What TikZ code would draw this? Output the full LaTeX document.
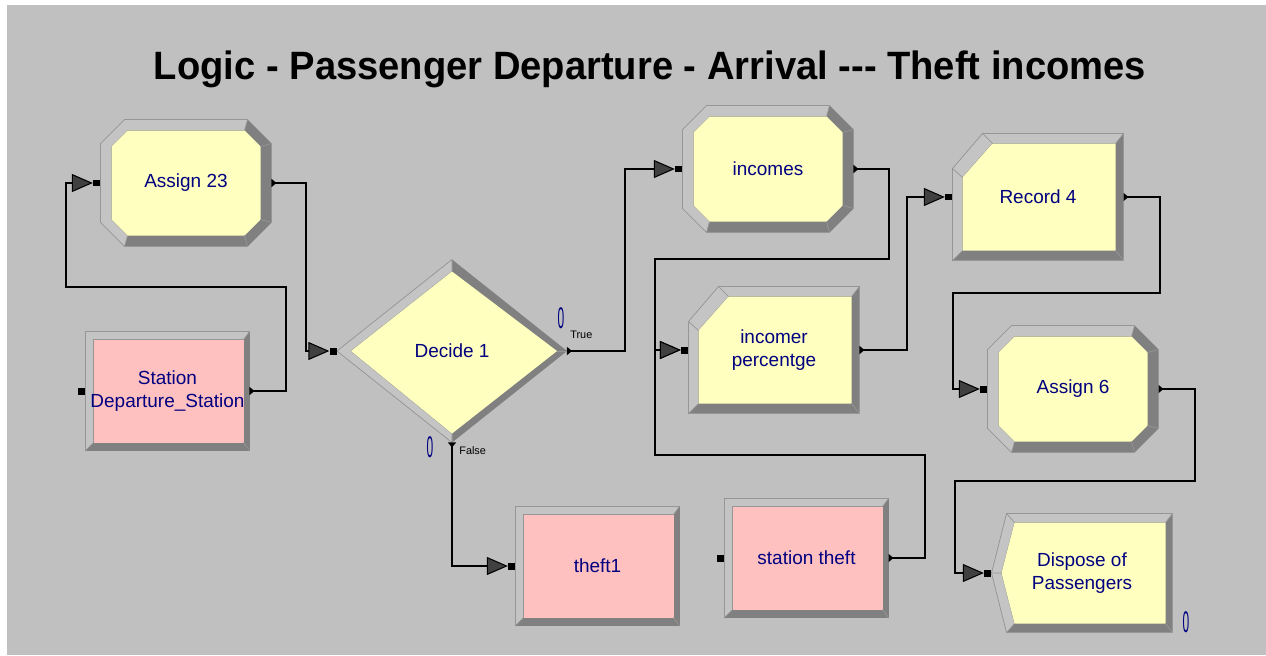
\documentclass[tikz,border=0pt]{standalone}
\usepackage{fontspec}
\setmainfont{Liberation Sans}
\usepackage{xcolor}
\definecolor{BgGray}{RGB}{192,192,192}
\definecolor{BevelLight}{RGB}{196,196,196}
\definecolor{BevelDark}{RGB}{128,128,128}
\definecolor{BevelLine}{RGB}{150,150,150}
\definecolor{FaceYellow}{RGB}{255,255,192}
\definecolor{FacePink}{RGB}{255,192,192}
\definecolor{TextNavy}{RGB}{0,0,128}
\definecolor{ArrowFill}{RGB}{64,64,64}
\usetikzlibrary{arrows.meta, positioning, backgrounds}
\tikzset{
  % module text (the node is the outer box of the module)
  modtext/.style={
    font=\fontsize{10.8}{13}\selectfont, text=TextNavy,
    align=center, inner sep=0pt, outer sep=0pt
  },
  assignmod/.style={modtext, minimum width=3.42cm, minimum height=2.54cm},
  recordmod/.style={modtext, minimum width=3.42cm, minimum height=2.54cm},
  processmod/.style={modtext, minimum width=3.28cm, minimum height=2.38cm},
  disposemod/.style={modtext, minimum width=3.62cm, minimum height=2.38cm},
  decidemod/.style={modtext, minimum width=4.6cm, minimum height=3.66cm},
  % bevelled module faces, origin at the north west corner
  assignshape/.pic={
    \fill[BevelDark] (24,0) -- (147,0) -- (171,24) -- (171,103) -- (147,127)
      -- (24,127) -- (0,103) -- (0,24) -- cycle;
    \filldraw[fill=BevelLight, draw=BevelLine] (147,0) -- (24,0) -- (0,24) -- (0,103)
      -- (24,127) -- (27,116) -- (11,100) -- (11,27) -- (27,11) -- (144,11) -- cycle;
    \fill[FaceYellow] (27,11) -- (144,11) -- (160,27) -- (160,100) -- (144,116)
      -- (27,116) -- (11,100) -- (11,27) -- cycle;
    \draw[BevelLine] (171,24) -- (160,27) (171,103) -- (160,100) (147,127) -- (144,116);
  },
  recordshape/.pic={
    \fill[BevelDark] (30,0) -- (171,0) -- (171,127) -- (0,127) -- (0,35) -- cycle;
    \filldraw[fill=BevelLight, draw=BevelLine] (171,0) -- (30,0) -- (0,35) -- (0,127)
      -- (10,117) -- (10,44) -- (40,10) -- (163,10) -- cycle;
    \fill[FaceYellow] (40,10) -- (163,10) -- (163,117) -- (10,117) -- (10,44) -- cycle;
    \draw[BevelLine] (30,0) -- (40,10) (0,35) -- (10,44) (171,127) -- (163,117);
  },
  processshape/.pic={
    \fill[BevelDark] (0,0) rectangle (164,119);
    \filldraw[fill=BevelLight, draw=BevelLine] (164,0) -- (0,0) -- (0,119)
      -- (8,111) -- (8,8) -- (158,8) -- cycle;
    \fill[FacePink] (8,8) rectangle (158,111);
    \draw[BevelLine] (164,119) -- (158,111);
  },
  disposeshape/.pic={
    \fill[BevelDark] (15,0) -- (181,0) -- (181,119) -- (15,119) -- (0,59.5) -- cycle;
    \filldraw[fill=BevelLight, draw=BevelLine] (181,0) -- (15,0) -- (0,59.5) -- (15,119)
      -- (23,110) -- (10,59.5) -- (23,9) -- (174,9) -- cycle;
    \fill[FaceYellow] (23,9) -- (174,9) -- (174,110) -- (23,110) -- (10,59.5) -- cycle;
    \draw[BevelLine] (15,0) -- (23,9) (0,59.5) -- (10,59.5) (181,119) -- (174,110);
  },
  decideshape/.pic={
    \fill[BevelDark] (0,91.5) -- (115,0) -- (230,91.5) -- (115,183) -- cycle;
    \filldraw[fill=BevelLight, draw=BevelLine] (115,0) -- (0,91.5) -- (115,183)
      -- (115,174) -- (14,91.5) -- (115,12) -- cycle;
    \fill[FaceYellow] (14,91.5) -- (115,12) -- (220,91.5) -- (115,174) -- cycle;
    \draw[BevelLine] (230,91.5) -- (220,91.5);
  },
  % entry point
  insq/.style={rectangle, fill=black, inner sep=0pt, minimum size=0.14cm},
  % connectors
  outtip/.tip={Triangle[reversed, length=0.1cm, width=0.16cm]},
  intip/.tip={Triangle[length=0.42cm, width=0.36cm, fill=ArrowFill]},
  conn/.style={draw=black, line width=0.6pt, outtip-intip},
  % small texts
  plabel/.style={font=\fontsize{6.2}{7}\selectfont, inner sep=0pt},
  cnt/.style={font=\fontsize{17}{17}\selectfont, text=TextNavy, inner sep=0pt},
  title/.style={font=\fontsize{22.5}{27}\selectfont\bfseries, anchor=base, inner sep=0pt}
}
\begin{document}
\begin{tikzpicture}[x=0.02cm, y=-0.02cm]
  \useasboundingbox (0,0) rectangle (1266,655);

  \node[title] (title) at (650,80)
    {\scalebox{0.965}[1]{Logic - Passenger Departure - Arrival -{}-{}- Theft incomes}};

  %% Modules
  \node[assignmod]  (a23)  at (186,183)   {Assign 23};
  \node[processmod] (stat) at (167.5,391) {Station\\Departure\_Station};
  \node[decidemod]  (dec)  at (452,351)   {Decide 1};
  \node[assignmod]  (inc)  at (768,169)   {incomes};
  \node[recordmod]  (ip)   at (774,350)   {incomer\\percentge};
  \node[recordmod]  (r4)   at (1038,197)  {Record 4};
  \node[assignmod]  (a6)   at (1073,389)  {Assign 6};
  \node[disposemod] (disp) at (1082,573)  {Dispose of\\Passengers};
  \node[processmod] (th1)  at (597.5,566) {theft1};
  \node[processmod] (sth)  at (806.5,558) {station theft};

  %% Module faces behind the texts
  \begin{scope}[on background layer]
    \fill[white] (0,0) rectangle (1266,655);
    \fill[BgGray] (7,5) rectangle (1266,655);
    \pic at (a23.north west)  {assignshape};
    \pic at (inc.north west)  {assignshape};
    \pic at (a6.north west)   {assignshape};
    \pic at (ip.north west)   {recordshape};
    \pic at (r4.north west)   {recordshape};
    \pic at (stat.north west) {processshape};
    \pic at (th1.north west)  {processshape};
    \pic at (sth.north west)  {processshape};
    \pic at (disp.north west) {disposeshape};
    \pic at (dec.north west)  {decideshape};
  \end{scope}

  %% Entry points
  \node[insq, left=0pt of a23]  (a23in)  {};
  \node[insq, left=0pt of stat] (statin) {};
  \node[insq, left=0pt of dec]  (decin)  {};
  \node[insq, left=0pt of inc]  (incin)  {};
  \node[insq, left=0pt of ip]   (ipin)   {};
  \node[insq, left=0pt of r4]   (r4in)   {};
  \node[insq, left=0pt of a6]   (a6in)   {};
  \node[insq, left=0pt of disp] (dispin) {};
  \node[insq, left=0pt of th1]  (th1in)  {};
  \node[insq, left=0pt of sth]  (sthin)  {};

  %% Counters and branch labels
  \node[cnt] (dec-tc) at (561,318) {\scalebox{0.4}[1]{0}};
  \node[cnt] (dec-fc) at (430,447) {\scalebox{0.4}[1]{0}};
  \node[cnt] (disp-c) at (1186,622) {\scalebox{0.4}[1]{0}};
  \node[plabel, anchor=west] (dec-true)  at (570,335) {True};
  \node[plabel, anchor=west] (dec-false) at (459,451) {False};

  %% Connectors
  \draw[conn] (stat.east) -- (286,391) -- (286,287) -- (66,287) |- (a23in);
  \draw[conn] (a23.east) -- (306,183) |- (decin);
  \draw[conn] (dec.east) -- (625,351) |- (incin);
  \draw[conn] (dec.south) |- (th1in);
  \draw[conn] (inc.east) -- (889,169) -- (889,259) -- (655,259) |- (ipin);
  \draw[conn] (sth.east) -- (925,558) -- (925,455) -- (655,455) |- (ipin);
  \draw[conn] (ip.east) -- (907,350) |- (r4in);
  \draw[conn] (r4.east) -- (1160,197) -- (1160,293) -- (953,293) |- (a6in);
  \draw[conn] (a6.east) -- (1195,389) -- (1195,481) -- (955,481) |- (dispin);

\end{tikzpicture}
\end{document}
